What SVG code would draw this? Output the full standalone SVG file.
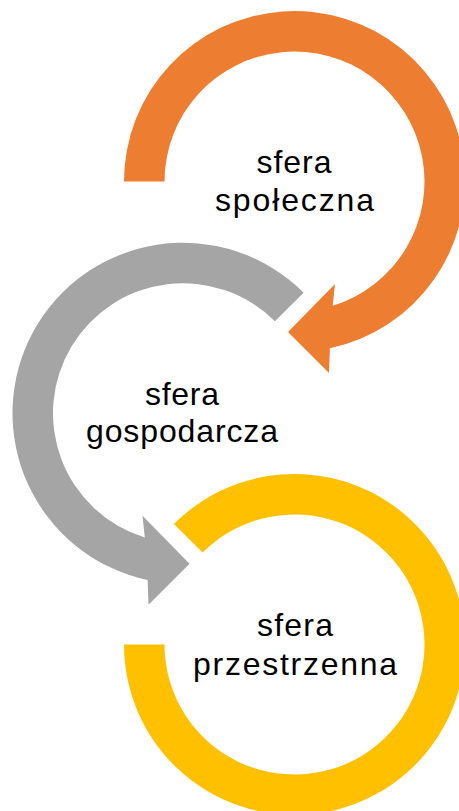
<svg xmlns="http://www.w3.org/2000/svg" width="459" height="811" viewBox="0 0 459 811">
<style>
.lbl{font-family:"Liberation Sans",Arial,sans-serif;font-size:32px;fill:#000;text-anchor:middle}
.orange{fill:#ED7D31}
.grey{fill:#A5A5A5}
.yellow{fill:#FFC000}
</style>
<rect width="459" height="811" fill="#FFFFFF"/>
<g id="connectors"></g>
<g id="node-spoleczna">
<path class="orange" d="M124 181.5 A170.5 170.5 0 1 1 329.9 348.3 L329 373 L288 332 L335 284 L332.7 305.8 A130 130 0 1 0 164.5 181.5 Z"/>
<text class="lbl" x="294" y="173" textLength="75" lengthAdjust="spacing">sfera</text>
<text class="lbl" x="294.5" y="211" textLength="159" lengthAdjust="spacing">społeczna</text>
</g>
<g id="node-gospodarcza">
<path class="grey" d="M303.6 292.7 A170.5 170.5 0 1 0 147.6 580 L148.5 604.8 L189.5 563.8 L142.5 515.8 L144.8 537.5 A130 130 0 1 1 274.9 321.3 Z"/>
<text class="lbl" x="182" y="405" textLength="74" lengthAdjust="spacing">sfera</text>
<text class="lbl" x="182" y="442" textLength="192" lengthAdjust="spacing">gospodarcza</text>
</g>
<g id="node-przestrzenna">
<path class="yellow" d="M173.94 523.94 A170.5 170.5 0 1 1 124 644.5 L164.5 644.5 A130 130 0 1 0 202.58 552.58 Z"/>
<text class="lbl" x="295" y="636" textLength="76" lengthAdjust="spacing">sfera</text>
<text class="lbl" x="295" y="675" textLength="204" lengthAdjust="spacing">przestrzenna</text>
</g>
</svg>
